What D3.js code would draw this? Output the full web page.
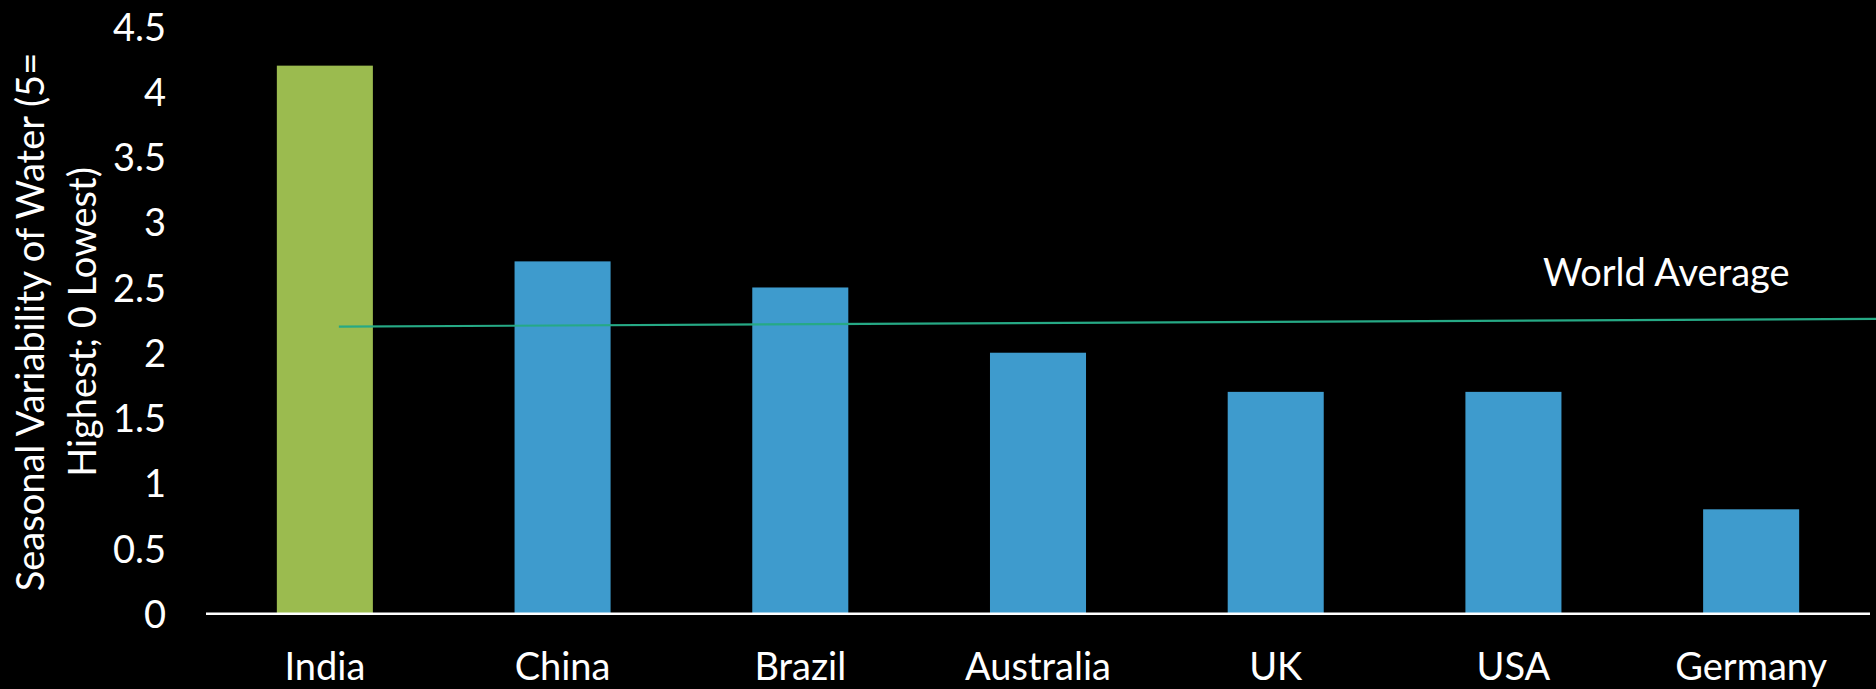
<!DOCTYPE html>
<html>
<head>
<meta charset="utf-8">
<script src="https://cdn.jsdelivr.net/npm/d3@7"></script>
<style>
  html, body { margin: 0; padding: 0; background: #000; }
  svg { display: block; }
  text { font-family: Lato, "Open Sans", sans-serif; fill: #fff; }
</style>
</head>
<body>
<script>
// ---- data ----
const categories = ["India", "China", "Brazil", "Australia", "UK", "USA", "Germany"];
const values = [4.2, 2.7, 2.5, 2.0, 1.7, 1.7, 0.8];
const highlight = ["India"];
const yTicks = [0, 0.5, 1, 1.5, 2, 2.5, 3, 3.5, 4, 4.5];
const worldAverage = [2.2, 2.26]; // start (India), end (right edge)
const worldAverageLabel = "World Average";
const yTitleLines = ["Seasonal Variability of Water (5=", "Highest; 0 Lowest)"];

// ---- layout ----
const W = 1876, H = 689;
const FS = 38;
const svg = d3.select("body").append("svg").attr("width", W).attr("height", H);
svg.append("rect").attr("width", W).attr("height", H).attr("fill", "#000");

const x = d3.scaleBand().domain(categories).range([206, 1870]).paddingInner(0.596).paddingOuter(0.298);
const y = d3.scaleLinear().domain([0, 4.5]).range([613.7, 26.5]);

// bars
svg.selectAll("rect.bar").data(categories).enter().append("rect")
  .attr("class", "bar")
  .attr("x", d => x(d))
  .attr("width", x.bandwidth())
  .attr("y", (d, i) => y(values[i]))
  .attr("height", (d, i) => y(0) - y(values[i]))
  .attr("fill", d => highlight.includes(d) ? "#9BBB4F" : "#3E9BCD");

// y axis (labels only)
const yAxis = d3.axisLeft(y).tickValues(yTicks).tickSize(0).tickPadding(0).tickFormat(d3.format("~g"));
const gy = svg.append("g").attr("transform", "translate(166,0)").call(yAxis);
gy.select(".domain").remove();
gy.selectAll("text").attr("font-size", FS).attr("fill", "#fff").attr("font-family", "Lato, sans-serif").attr("dy", "0.36em");

// x axis
const xAxis = d3.axisBottom(x).tickSize(0).tickPadding(0);
const gx = svg.append("g").attr("transform", `translate(0,${y(0)})`).call(xAxis);
gx.select(".domain").remove();
gx.selectAll("text").attr("font-size", FS).attr("fill", "#fff").attr("font-family", "Lato, sans-serif")
  .attr("y", 680 - y(0)).attr("dy", 0);
svg.append("line").attr("x1", x.range()[0]).attr("x2", x.range()[1])
  .attr("y1", y(0)).attr("y2", y(0)).attr("stroke", "#fff").attr("stroke-width", 2.5);

// world average line
const lx0 = x(categories[0]) + x.bandwidth() / 2 + 14;
svg.append("line")
  .attr("x1", lx0).attr("x2", W)
  .attr("y1", y(worldAverage[0])).attr("y2", y(worldAverage[1]))
  .attr("stroke", "#26A985").attr("stroke-width", 2.2);
svg.append("text").attr("x", 1543).attr("y", 285.7).attr("font-size", FS).text(worldAverageLabel);

// y title
const tg = svg.append("g").attr("transform", "translate(0,322)");
tg.selectAll("text").data(yTitleLines).enter().append("text")
  .attr("transform", (d, i) => `translate(${44 + i * 52},0) rotate(-90)`)
  .attr("text-anchor", "middle")
  .attr("font-size", FS)
  .text(d => d);
</script>
</body>
</html>
